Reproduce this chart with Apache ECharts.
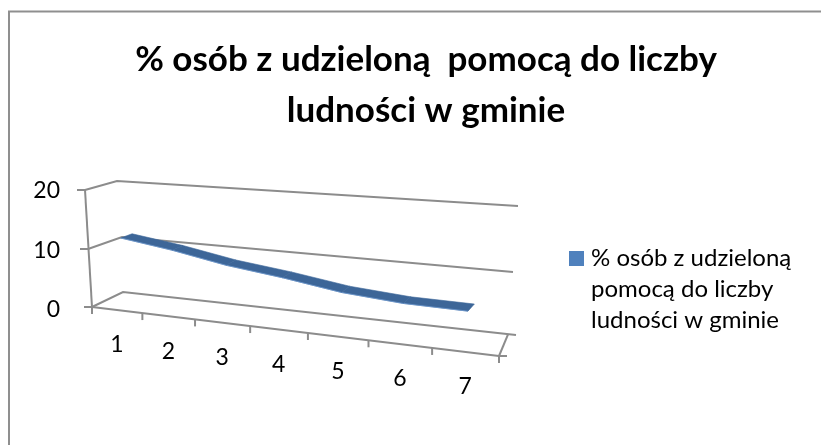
<!DOCTYPE html>
<html>
<head>
<meta charset="utf-8">
<style>
  html, body { margin: 0; background: #fff; }
  #chart { width: 821px; height: 445px; }
</style>
<script src="https://cdn.jsdelivr.net/npm/echarts@6/dist/echarts.min.js"></script>
</head>
<body>
<div id="chart"></div>
<script>
var categories = ['1', '2', '3', '4', '5', '6', '7'];
var values = [11.8, 10.6, 9.0, 7.9, 6.5, 5.8, 5.7];
var yTicks = [0, 10, 20];
var seriesName = '% osób z udzieloną\npomocą do liczby\nludności w gminie';
var titleText = '% osób z udzieloną  pomocą do liczby\nludności w gminie';

// hidden flat grid, its pixels get pushed through the fake 3D box below
var GRID = { left: 62, top: 191, width: 440, height: 119 };
var Y_MAX = 20;
var PERSPECTIVE = 1.18;
var RIBBON_FRONT = 0.25, RIBBON_BACK = 0.6;

// box corners for y = 0, 10, 20
var FRONT_LEFT = [[92, 307], [88, 249], [85, 190]];
var FRONT_RIGHT = [[499, 356], [496, 293], [501, 227]];
var BACK_LEFT = [[123, 292], [122, 237], [117, 181]];
var BACK_RIGHT = [[516, 335], [513, 272], [518, 206]];

function lerp(a, b, f) {
    return [a[0] + (b[0] - a[0]) * f, a[1] + (b[1] - a[1]) * f];
}

// s: 0..1 along x (already foreshortened), d: 0 front .. 1 back, v: axis value
function project(s, d, v) {
    var level = Math.min(Math.floor(v / 10), 1);
    var f = v / 10 - level;
    var lo = lerp(lerp(FRONT_LEFT[level], FRONT_RIGHT[level], s), lerp(BACK_LEFT[level], BACK_RIGHT[level], s), d);
    var hi = lerp(lerp(FRONT_LEFT[level + 1], FRONT_RIGHT[level + 1], s), lerp(BACK_LEFT[level + 1], BACK_RIGHT[level + 1], s), d);
    return lerp(lo, hi, f);
}

function foreshorten(t) {
    return t / (t + PERSPECTIVE * (1 - t));
}

// pixel from the cartesian axes -> axis fractions -> box position
function fromCoord(api, i, value, d) {
    var c = api.coord([i, value]);
    var t = (c[0] - GRID.left) / GRID.width;
    var v = (GRID.top + GRID.height - c[1]) / GRID.height * Y_MAX;
    return project(foreshorten(t), d, v);
}

function line(points, width) {
    return {
        type: 'polyline',
        shape: { points: points },
        style: { stroke: '#8c8c8c', lineWidth: width || 2, fill: null }
    };
}

function renderRibbon(params, api) {
    var i = params.dataIndex;
    if (i >= values.length - 1) return null;
    var v0 = api.value(1), v1 = values[i + 1];
    return {
        type: 'group',
        children: [{
            type: 'polygon',
            shape: { points: [
                fromCoord(api, i, v0, RIBBON_BACK),
                fromCoord(api, i + 1, v1, RIBBON_BACK),
                fromCoord(api, i + 1, v1, RIBBON_FRONT),
                fromCoord(api, i, v0, RIBBON_FRONT)
            ] },
            style: { fill: '#3d6698', stroke: '#3d6698', lineWidth: 0.6 }
        }, {
            type: 'polyline',
            shape: { points: [fromCoord(api, i, v0, RIBBON_FRONT), fromCoord(api, i + 1, v1, RIBBON_FRONT)] },
            style: { stroke: '#6f9bd3', lineWidth: 1, fill: null, opacity: 0.7 }
        }]
    };
}

function renderGridLine(params, api) {
    var v = api.value(0);
    var front = project(0, 0, v);
    return {
        type: 'group',
        children: [
            line([project(1, 1, v), project(0, 1, v), front]),
            line([front, [front[0] - 8, front[1]]])
        ]
    };
}

function renderFloor(params, api) {
    var children = [];
    var left = project(0, 0, 0), right = project(1, 0, 0);
    var corner = lerp(project(0, 1, 0), project(1, 1, 0), 0.98);
    children.push(line([project(0, 0, 20), left]));
    children.push(line([left, right]));
    children.push(line([right, corner]));
    children.push(line([right, [right[0] + 8, right[1]]]));
    for (var i = 0; i <= categories.length; i++) {
        var p = project(foreshorten(i / categories.length), 0, 0);
        children.push(line([p, [p[0], p[1] + 7]]));
    }
    return { type: 'group', children: children };
}

function renderCategoryLabel(params, api) {
    var i = params.dataIndex;
    var p = fromCoord(api, i, 0, 0);
    return {
        type: 'text',
        x: p[0],
        y: p[1] + 35,
        style: {
            text: categories[i],
            fill: '#000',
            font: '23px Lato',
            align: 'center',
            verticalAlign: 'middle'
        }
    };
}

var option = {
    backgroundColor: '#fff',
    animation: false,
    title: {
        text: titleText,
        left: 421,
        top: 29,
        textAlign: 'center',
        textStyle: { fontFamily: 'Lato', fontSize: 35, fontWeight: 'bold', color: '#000', lineHeight: 51 }
    },
    legend: {
        left: 564,
        top: 176,
        icon: 'rect',
        itemWidth: 15,
        itemHeight: 15,
        itemGap: 0,
        selectedMode: false,
        data: [seriesName],
        // two blank lines so the marker sits beside the first text line
        formatter: function (name) { return '\n\n' + name; },
        textStyle: { fontFamily: 'Lato', fontSize: 24, color: '#000', lineHeight: 31, padding: [0, 0, 0, 2] }
    },
    grid: GRID,
    xAxis: { type: 'category', data: categories, show: false },
    yAxis: {
        type: 'value',
        min: 0,
        max: Y_MAX,
        interval: 10,
        axisLine: { show: false },
        axisTick: { show: false },
        splitLine: { show: false },
        axisLabel: { color: '#000', fontFamily: 'Lato', fontSize: 23, margin: 2 }
    },
    graphic: [{
        type: 'rect',
        shape: { x: 9, y: 11.5, width: 830, height: 460 },
        style: { fill: null, stroke: '#8f8f8f', lineWidth: 2 },
        silent: true
    }],
    series: [
        { type: 'custom', silent: true, renderItem: renderFloor, data: [0], encode: { x: [], y: [] }, z: 1 },
        { type: 'custom', silent: true, renderItem: renderGridLine, data: yTicks.map(function (t) { return [t]; }), encode: { x: [], y: 0 }, z: 1 },
        { type: 'custom', silent: true, renderItem: renderCategoryLabel, data: categories.map(function (c, i) { return [i]; }), encode: { x: 0, y: [] }, z: 2 },
        {
            name: seriesName,
            type: 'custom',
            silent: true,
            renderItem: renderRibbon,
            data: values.map(function (v, i) { return [i, v]; }),
            encode: { x: 0, y: 1 },
            itemStyle: { color: '#4f81bd' },
            z: 3
        }
    ]
};

var chart = echarts.init(document.getElementById('chart'), null, { renderer: 'canvas' });
chart.setOption(option);
</script>
</body>
</html>
